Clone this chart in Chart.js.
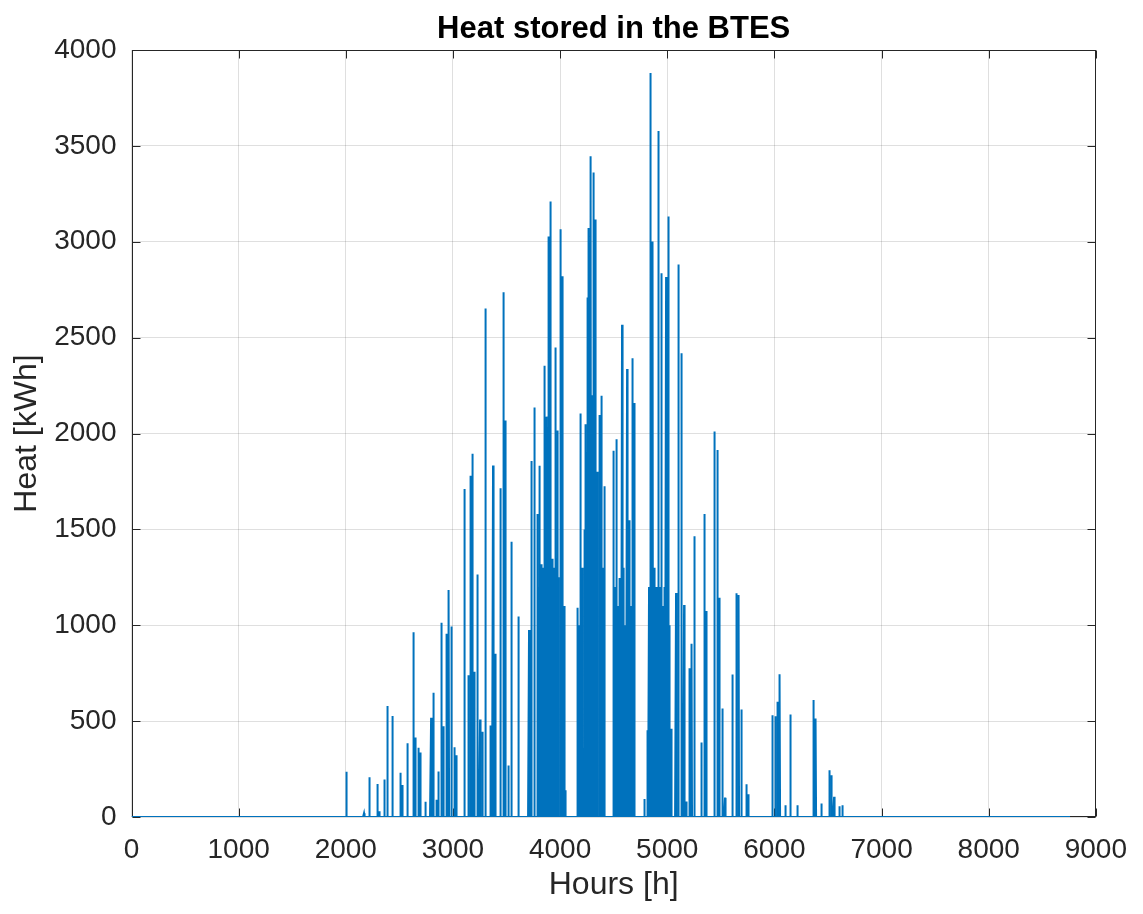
<!DOCTYPE html>
<html>
<head>
<meta charset="utf-8">
<title>Heat stored in the BTES</title>
<script src="https://cdn.jsdelivr.net/npm/chart.js@4.4.0/dist/chart.umd.min.js"></script>
<style>
html, body { margin: 0; padding: 0; background: #fff; }
</style>
</head>
<body>
<canvas id="heatchart" width="1143" height="914"></canvas>
<script>
// Spikes: hour of the peak and its height in kWh.
// Every other hour of the year is 0.
var spikeHours = [
  2003, 2170, 2219, 2293, 2313, 2364, 2389, 2438, 2509, 2531, 2577, 2630, 2648, 2676, 2700, 2747, 2796, 2818, 2850,
  2867, 2895, 2914, 2938, 2963, 2988, 3016, 3033, 3111, 3142, 3161, 3185, 3204, 3229, 3253, 3278, 3303, 3352, 3374,
  3399, 3445, 3470, 3491, 3519, 3544, 3611, 3710, 3735, 3759, 3791, 3809, 3828, 3852, 3877, 3893, 3908, 3926, 3954,
  3976, 4001, 4026, 4050, 4167, 4192, 4217, 4239, 4254, 4269, 4288, 4310, 4334, 4366, 4390, 4415, 4501, 4526, 4551,
  4578, 4604, 4625, 4649, 4674, 4695, 4788, 4819, 4841, 4866, 4890, 4915, 4943, 4964, 4989, 5010, 5035, 5082, 5103,
  5134, 5157, 5183, 5205, 5230, 5251, 5320, 5344, 5366, 5443, 5468, 5489, 5514, 5539, 5612, 5648, 5669, 5690, 5737,
  5761, 5984, 6008, 6030, 6052, 6100, 6147, 6218, 6364, 6388, 6441, 6512, 6536, 6557, 6610, 6635
];
var spikeValues = [
  236, 20, 207, 172, 30, 196, 579, 527, 231, 167, 384, 963, 415, 361, 337, 80, 518, 648, 90,
  237, 1013, 473, 956, 1184, 994, 364, 322, 1710, 739, 1780, 1894, 758, 1265, 508, 445, 2652, 477, 1833,
  852, 1714, 2737, 2068, 269, 1436, 1045, 975, 1856, 2136, 1580, 1832, 1318, 2353, 2088, 3027, 3210, 1347, 2449,
  2015, 3065, 2820, 140, 1091, 2104, 356, 2048, 2709, 3072, 3446, 3361, 3116, 2097, 2197, 1725, 1910, 1970, 1246,
  2567, 122, 2337, 1547, 2393, 2159, 94, 452, 3880, 3001, 400, 3577, 2836, 915, 2816, 3132, 460, 1168, 2882,
  2419, 1105, 81, 776, 903, 1464, 389, 1580, 1074, 2010, 1914, 1143, 566, 101, 743, 1167, 1158, 561, 171,
  118, 531, 526, 601, 744, 61, 535, 61, 610, 514, 70, 244, 218, 105, 56, 61
];
// lower peaks that fill the crowded stretches (read as the top of the solid band)
var denseHours = [
  3800, 3818, 3840, 3865, 3885, 3900, 3917, 3940, 3965, 3988, 4013, 4038,
  4180, 4205, 4228, 4246, 4262, 4278, 4299, 4322, 4350, 4378, 4402,
  4513, 4538, 4565, 4590, 4613, 4637, 4662, 4685,
  4830, 4853, 4878, 4903, 4929, 4953, 4977, 4999, 5022
];
var denseValues = [
  1200, 1250, 1300, 1250, 1400, 1300, 1200, 1300, 1350, 1250, 1400, 1100,
  1000, 1300, 1500, 1900, 2000, 2100, 2200, 2000, 1800, 1500, 1300,
  1200, 1100, 1200, 1300, 1000, 1200, 1100, 1200,
  1200, 1300, 1300, 1200, 1200, 1100, 1200, 1300, 1000
];
var lastHour = 8760;
var xTicks = [0, 1000, 2000, 3000, 4000, 5000, 6000, 7000, 8000, 9000];
var yTicks = [0, 500, 1000, 1500, 2000, 2500, 3000, 3500, 4000];

var heat = [];
for (var h = 0; h <= lastHour; h++) heat.push({x: h, y: 0});
spikeHours.forEach(function (hr, i) { heat[hr].y = spikeValues[i]; });
denseHours.forEach(function (hr, i) { heat[hr].y = denseValues[i]; });

var txt = '#262626';
var fam = '"Liberation Sans", Arial, Helvetica, sans-serif';

// box round the axes with inward tick marks, like MATLAB, and the title centred on the axes
var framePlugin = {
  id: 'frame',
  beforeDatasetsDraw: function (chart) {
    var a = chart.chartArea, c = chart.ctx;
    var xs = chart.scales.x, ys = chart.scales.y;
    var L = Math.round(a.left) + 0.5, R = Math.round(a.right) - 0.5;
    var T = Math.round(a.top) + 0.5, B = Math.round(a.bottom) - 0.5;
    c.save();
    c.strokeStyle = txt;
    c.lineWidth = 1;
    c.strokeRect(L, T, R - L, B - T);
    c.beginPath();
    xTicks.forEach(function (t) {
      var p = Math.round(xs.getPixelForValue(t)) + 0.5;
      c.moveTo(p, B); c.lineTo(p, B - 8);
      c.moveTo(p, T); c.lineTo(p, T + 8);
    });
    yTicks.forEach(function (t) {
      var p = Math.round(ys.getPixelForValue(t)) + 0.5;
      c.moveTo(L, p); c.lineTo(L + 8, p);
      c.moveTo(R, p); c.lineTo(R - 8, p);
    });
    c.stroke();
    c.restore();
  },
  afterDraw: function (chart) {
    var a = chart.chartArea, c = chart.ctx;
    c.save();
    c.fillStyle = '#000';
    c.font = 'bold 31px ' + fam;
    c.textAlign = 'center';
    c.textBaseline = 'alphabetic';
    c.fillText('Heat stored in the BTES', (a.left + a.right) / 2, 38);
    c.restore();
  }
};

var chart = new Chart(document.getElementById('heatchart').getContext('2d'), {
  type: 'line',
  data: {
    datasets: [{
      data: heat,
      borderColor: '#0072BD',
      borderWidth: 2,
      pointRadius: 0,
      tension: 0,
      fill: false
    }]
  },
  options: {
    responsive: false,
    animation: false,
    events: [],
    layout: {padding: {left: 0, right: 40, top: 50, bottom: 0}},
    plugins: {
      legend: {display: false},
      tooltip: {enabled: false},
      title: {display: false}
    },
    scales: {
      x: {
        type: 'linear',
        min: 0, max: 9000,
        afterFit: function (s) { s.height = 97; },
        afterBuildTicks: function (s) { s.ticks = xTicks.map(function (v) { return {value: v}; }); },
        ticks: {
          color: txt, padding: 16, maxRotation: 0, autoSkip: false,
          font: {family: fam, size: 28},
          callback: function (v) { return String(v); }
        },
        grid: {color: 'rgba(38,38,38,0.15)', drawTicks: false},
        border: {display: false},
        title: {
          display: true, text: 'Hours [h]', color: txt,
          font: {family: fam, size: 32}, padding: {top: 0, bottom: 10}
        }
      },
      y: {
        min: 0, max: 4000,
        afterFit: function (s) { s.width = 131.5; },
        afterBuildTicks: function (s) { s.ticks = yTicks.map(function (v) { return {value: v}; }); },
        ticks: {
          color: txt, padding: 15,
          font: {family: fam, size: 28},
          callback: function (v) { return String(v); }
        },
        grid: {color: 'rgba(38,38,38,0.15)', drawTicks: false},
        border: {display: false},
        title: {
          display: true, text: 'Heat [kWh]', color: txt,
          font: {family: fam, size: 32}, padding: {top: 8, bottom: 0}
        }
      }
    }
  },
  plugins: [framePlugin]
});
</script>
</body>
</html>
